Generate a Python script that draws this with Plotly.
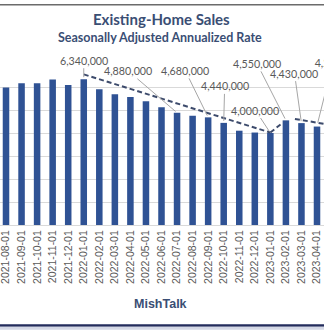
import plotly.graph_objects as go

months = ["2021-08-01", "2021-09-01", "2021-10-01", "2021-11-01", "2021-12-01",
          "2022-01-01", "2022-02-01", "2022-03-01", "2022-04-01", "2022-05-01",
          "2022-06-01", "2022-07-01", "2022-08-01", "2022-09-01", "2022-10-01",
          "2022-11-01", "2022-12-01", "2023-01-01", "2023-02-01", "2023-03-01",
          "2023-04-01"]
sales = [5.98, 6.16, 6.16, 6.33, 6.09, 6.34, 5.90, 5.68, 5.57, 5.38,
         5.12, 4.88, 4.75, 4.68, 4.44, 4.10, 4.02, 4.00, 4.55, 4.43, 4.28]

# labelled points: index, text, label offset in pixels
label_idx = [5, 11, 13, 14, 17, 18, 19]
label_txt = ["6,340,000", "4,880,000", "4,680,000", "4,440,000", "4,000,000",
             "4,550,000", "4,430,000"]
label_ax = [0, -49, -23, 1, -15, -29, -7]
label_ay = [-19, -42, -47, -37, -23, -57, -50]

# label for the last bar, running off the right edge
edge_label_txt = ["4,280,000"]
edge_label_x = [19.85]
edge_label_y = [7.0]
edge_leader_x = [20.9, 20.05]
edge_leader_y = [6.75, 4.45]

# dashed trend segments (index, value)
trend1_x = [5, 17]
trend1_y = [6.55, 4.02]
trend2_x = [17, 17.8]
trend2_y = [4.02, 4.45]
trend3_x = [18.58, 21.5]
trend3_y = [4.61, 4.28]

W, H = 324, 333
TOP, BOT = 63.5, 225.0
LABEL_FONT = dict(family="Lato", size=10.7, color="#595959")

def py(p):
    return (BOT - p) / (BOT - TOP)

def px(p):
    return p / W

idx = list(range(len(months)))
fig = go.Figure()
fig.add_trace(go.Bar(x=idx, y=sales, width=0.42, marker_color="#2f5294",
                     marker_line_width=0, hoverinfo="skip"))
dash_style = dict(color="#3d4b6c", width=2, dash="5px,3px")
for xs, ys in [(trend1_x, trend1_y), (trend2_x, trend2_y), (trend3_x, trend3_y)]:
    fig.add_trace(go.Scatter(x=xs, y=ys, mode="lines", line=dash_style,
                             hoverinfo="skip", cliponaxis=True))
fig.add_trace(go.Scatter(x=edge_leader_x, y=edge_leader_y, mode="lines",
                         line=dict(color="#a6a6a6", width=1), hoverinfo="skip",
                         cliponaxis=True))
fig.add_trace(go.Scatter(x=edge_label_x, y=edge_label_y, mode="text",
                         text=edge_label_txt, textposition="middle right",
                         textfont=LABEL_FONT, hoverinfo="skip", cliponaxis=False))

annotations = []
for i, t, ax, ay in zip(label_idx, label_txt, label_ax, label_ay):
    annotations.append(dict(x=i, y=sales[i], xref="x", yref="y", text=t,
                            showarrow=True, arrowhead=0, arrowwidth=1,
                            arrowcolor="#a6a6a6", ax=ax, ay=ay, standoff=2,
                            font=LABEL_FONT))

annotations += [
    dict(x=px(161), y=py(18.5), xref="paper", yref="paper", showarrow=False,
         text="<b>Existing-Home Sales</b>", xanchor="center", yanchor="middle",
         font=dict(family="Lato", size=15, color="#3a4e74")),
    dict(x=px(160), y=py(36.7), xref="paper", yref="paper", showarrow=False,
         text="<b>Seasonally Adjusted Annualized Rate</b>", xanchor="center",
         yanchor="middle", font=dict(family="Lato", size=12.5, color="#3a4e74")),
    dict(x=px(160.5), y=py(304.3), xref="paper", yref="paper", showarrow=False,
         text="<b>MishTalk</b>", xanchor="center", yanchor="middle",
         font=dict(family="Liberation Sans", size=12.5, color="#3a4e74")),
]

shapes = [
    dict(type="line", xref="paper", yref="paper", x0=0, x1=1, y0=py(4), y1=py(4),
         line=dict(color="#6b6b6b", width=1.5)),
    dict(type="line", xref="paper", yref="paper", x0=0, x1=1, y0=py(325.7), y1=py(325.7),
         line=dict(color="#232c5c", width=2.5)),
    dict(type="line", xref="paper", yref="paper", x0=0, x1=1, y0=py(328.5), y1=py(328.5),
         line=dict(color="#d4d8e6", width=3)),
]

fig.update_layout(
    width=W, height=H,
    margin=dict(l=0, r=0, t=TOP, b=H - BOT, pad=0),
    paper_bgcolor="white", plot_bgcolor="white",
    showlegend=False, bargap=0.5,
    annotations=annotations, shapes=shapes,
    xaxis=dict(range=[-0.386, 20.45], tickmode="array", tickvals=idx, ticktext=months,
               tickangle=-90, ticklabeloverflow="allow",
               tickfont=dict(family="Liberation Sans", size=10.5, color="#595959"),
               showgrid=False, zeroline=False, showline=True, linecolor="#d9d9d9",
               linewidth=1, ticks=""),
    yaxis=dict(range=[0, 7], dtick=1, showgrid=True, gridcolor="#d9d9d9", gridwidth=1,
               showticklabels=False, zeroline=False, showline=False, ticks=""),
)

fig.write_html("out.html")
